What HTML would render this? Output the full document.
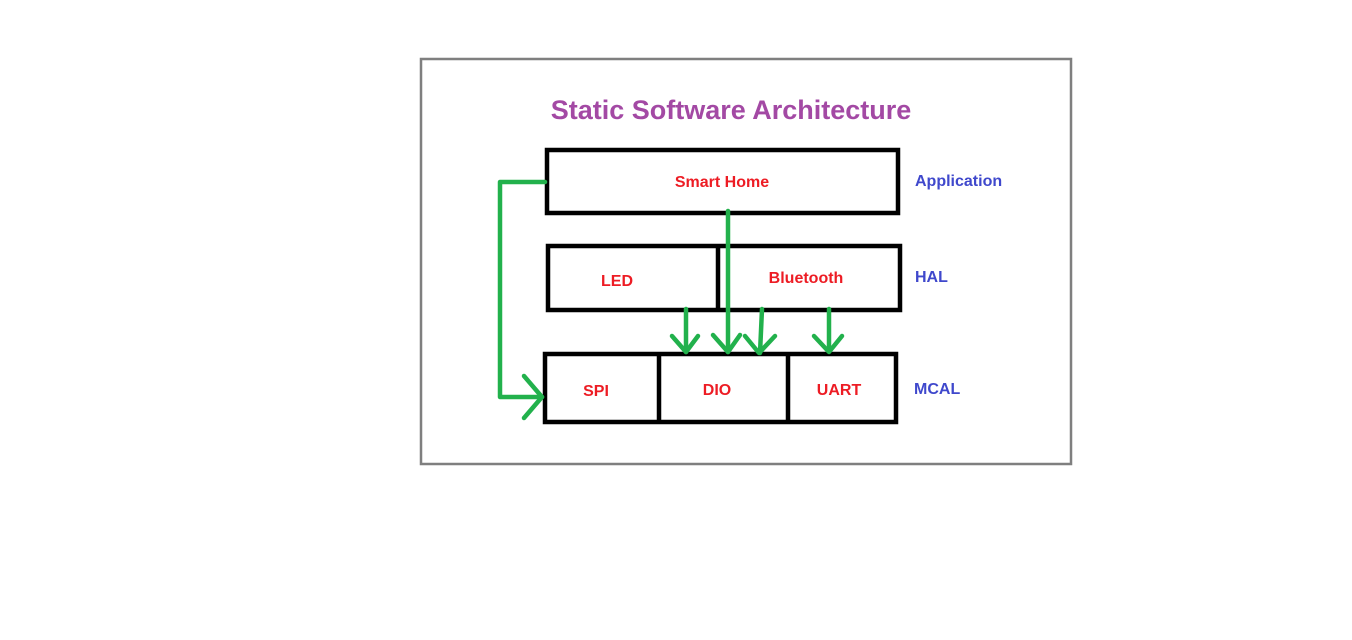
<!DOCTYPE html>
<html><head><style>
body{margin:0;background:#fff;}
svg text{font-family:"Liberation Sans",sans-serif;font-weight:bold;}
</style></head><body>
<svg width="1352" height="635" viewBox="0 0 1352 635" xmlns="http://www.w3.org/2000/svg">
<rect x="0" y="0" width="1352" height="635" fill="#fff"/>
<rect x="421" y="59" width="650" height="405" fill="none" stroke="#7f7f7f" stroke-width="2.5"/>
<text x="731" y="119" text-anchor="middle" font-size="27" fill="#a349a4">Static Software Architecture</text>
<g fill="none" stroke="#000" stroke-width="4.5">
<rect x="547" y="150" width="351" height="63"/>
<rect x="548" y="246" width="352" height="64"/>
<line x1="718" y1="246" x2="718" y2="310"/>
<rect x="545" y="354" width="351" height="68"/>
<line x1="659" y1="354" x2="659" y2="422"/>
<line x1="788" y1="354" x2="788" y2="422"/>
</g>
<g font-size="16" fill="#ed1c24" text-anchor="middle">
<text x="722" y="187">Smart Home</text>
<text x="617" y="286">LED</text>
<text x="806" y="283">Bluetooth</text>
<text x="596" y="396">SPI</text>
<text x="717" y="395">DIO</text>
<text x="839" y="395">UART</text>
</g>
<g font-size="16" fill="#3f48cc">
<text x="915" y="186">Application</text>
<text x="915" y="282">HAL</text>
<text x="914" y="394">MCAL</text>
</g>
<g fill="none" stroke="#22b14c" stroke-width="4.5" stroke-linecap="round" stroke-linejoin="round">
<polyline points="545,182 500,182 500,397 542,397"/>
<polyline points="524,376 542,397 524,418"/>
<line x1="686" y1="309" x2="686" y2="352"/>
<polyline points="672,336 686,352 698,336"/>
<line x1="728" y1="211" x2="728" y2="352"/>
<polyline points="713,335 728,352 740,335"/>
<line x1="762" y1="309" x2="760" y2="353"/>
<polyline points="745,336 759,353 775,336"/>
<line x1="829" y1="309" x2="829" y2="351"/>
<polyline points="814,336 829,352 842,336"/>
</g>
</svg>
</body></html>
